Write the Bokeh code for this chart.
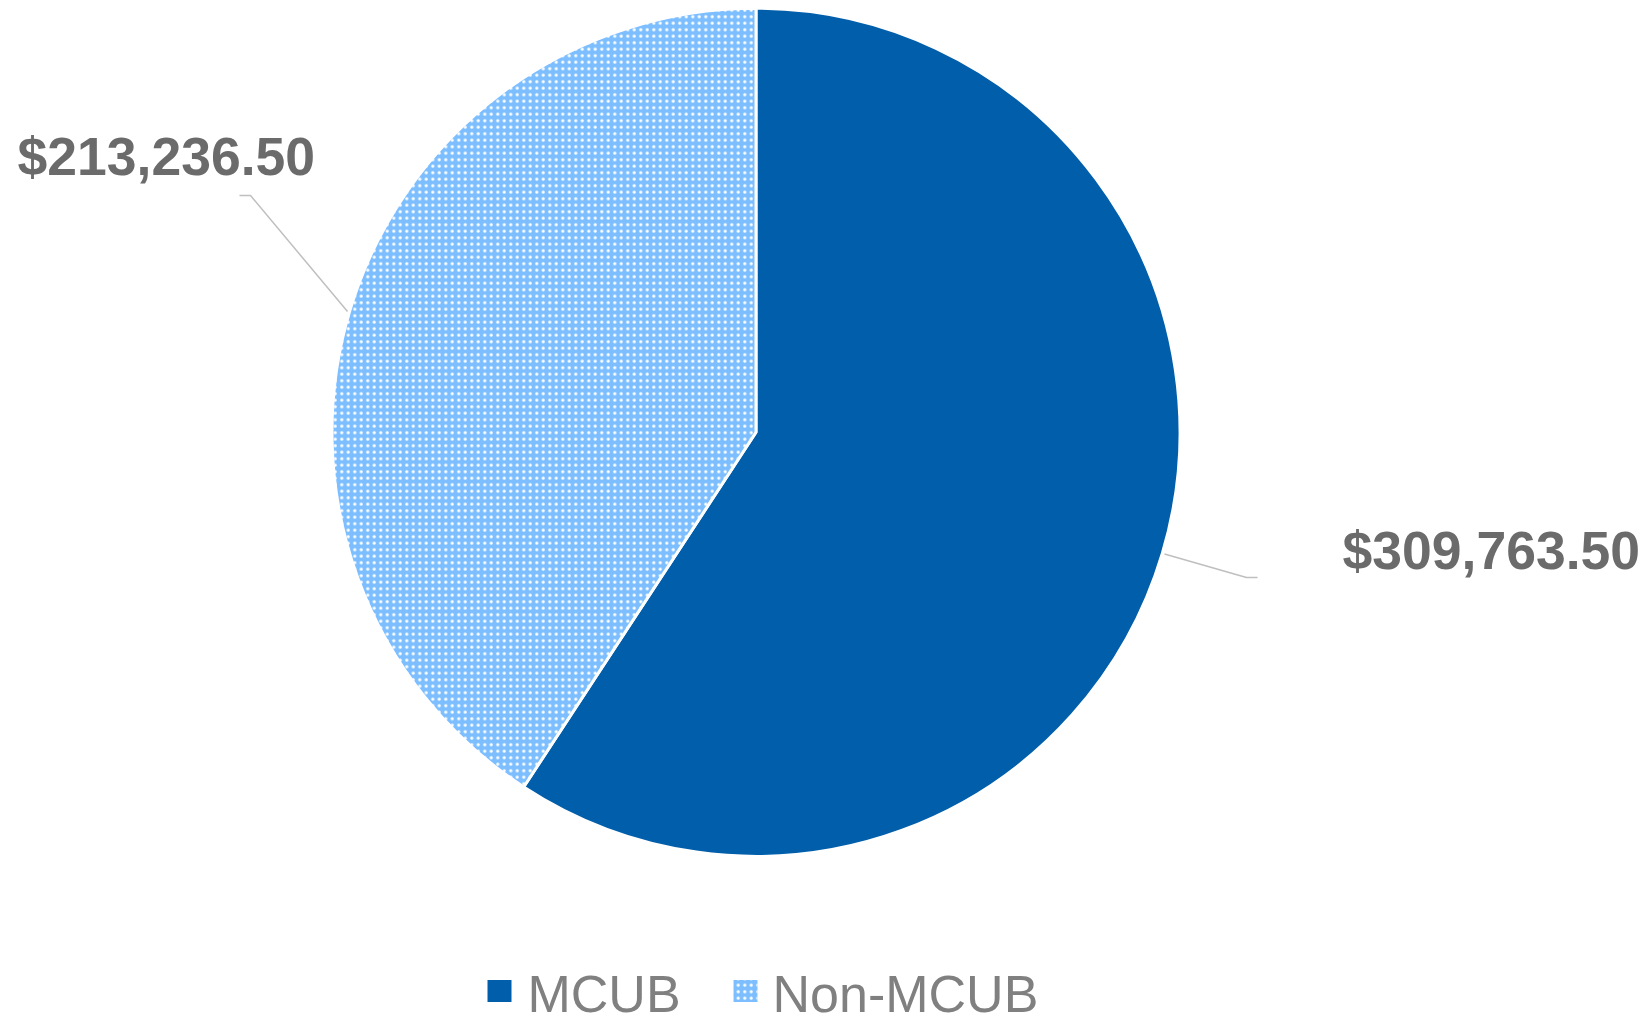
import numpy as np
from bokeh.plotting import figure
from bokeh.models import Range1d
from bokeh.core.properties import value
from bokeh.embed import file_html
from bokeh.resources import INLINE

# ---- data ----
categories = ["MCUB", "Non-MCUB"]
amounts = [309763.50, 213236.50]
label_texts = ["$309,763.50", "$213,236.50"]
colors = ["#005EAA", "#7CBEFF"]

# ---- layout (page pixel coordinates; data y = -page y) ----
W, H = 1647, 1013
p = figure(width=W, height=H, output_backend="svg", toolbar_location=None,
           x_range=Range1d(0, W), y_range=Range1d(-H, 0),
           min_border=0, outline_line_color=None)
p.axis.visible = False
p.grid.visible = False
p.background_fill_color = "white"
p.border_fill_color = "white"

hatch_kw = dict(hatch_pattern="dot", hatch_color="white", hatch_scale=6.5, hatch_weight=1)

cx, cy, r = 755.5, -431.8, 424.0

vals = np.array(amounts)
fr = vals / vals.sum()
ang = fr * 2 * np.pi
# clockwise from 12 o'clock
ends = np.pi / 2 - np.concatenate([[0], np.cumsum(ang)[:-1]])
starts = ends - ang

p.wedge(x=cx, y=cy, radius=r, start_angle=starts[0], end_angle=ends[0],
        fill_color=colors[0], line_color="white", line_width=3)
p.wedge(x=cx, y=cy, radius=r, start_angle=starts[1], end_angle=ends[1],
        fill_color=colors[1], line_color="white", line_width=3, **hatch_kw)

# leader lines
p.line(x=[1164, 1246, 1257], y=[-553.5, -577, -577], line_color="#BFBFBF", line_width=1.5)
p.line(x=[347, 250, 239], y=[-311, -195, -195], line_color="#BFBFBF", line_width=1.5)

# data labels
p.text(x=[1342, 17], y=[-550, -156], text=label_texts,
       text_font=value("Liberation Sans"), text_font_style="bold",
       text_font_size="53.5px", text_color="#6B6B6B",
       text_align="left", text_baseline="alphabetic")

# legend
p.rect(x=[499], y=[-990.5], width=24, height=22, width_units="screen", height_units="screen",
       fill_color=colors[0], line_color=None)
p.rect(x=[745], y=[-990.5], width=24, height=22, width_units="screen", height_units="screen",
       fill_color=colors[1], line_color=None, **hatch_kw)
p.text(x=[527, 772], y=[-993, -993], text=categories,
       text_font=value("Liberation Sans"), text_font_size="52px", text_color="#808080",
       text_align="left", text_baseline="alphabetic")

open("out.html", "w").write(file_html(p, INLINE))
